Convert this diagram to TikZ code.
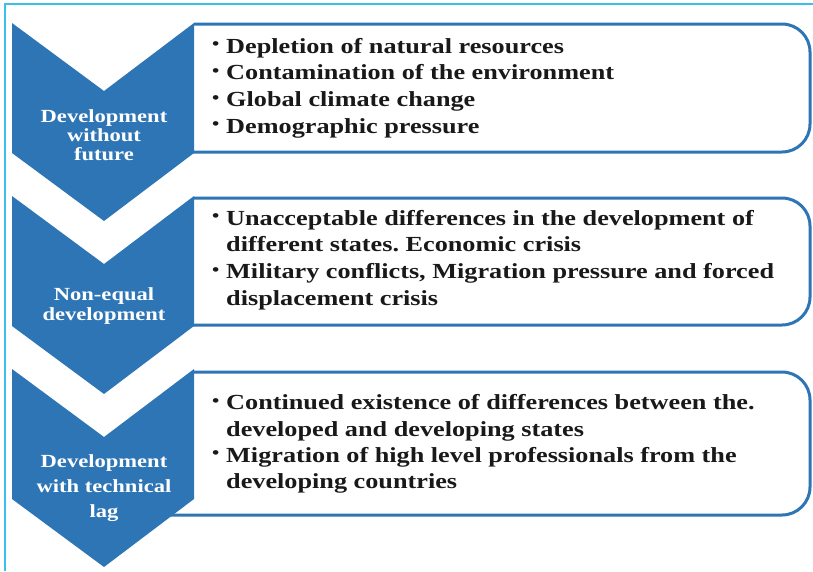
\documentclass[tikz,border=0pt]{standalone}
\usepackage{fontspec}
\setmainfont[FakeStretch=1.22]{Liberation Serif}
\frenchspacing
\definecolor{chevblue}{RGB}{46,117,182}
\definecolor{framecyan}{RGB}{60,190,235}
\newcommand{\bpt}{\makebox[14pt][l]{\raisebox{3.5pt}{\fontsize{17}{17}\selectfont\textbullet}}}
\newcommand{\bind}{\hspace*{14pt}}
\tikzset{
  chev/.style={fill=chevblue, draw=none},
  chevtext/.style={text=white, align=center, inner sep=0pt,
    font=\bfseries\fontsize{18.5}{19}\selectfont},
  boxline/.style={draw=chevblue, line width=3pt, rounded corners=28pt},
  boxtext/.style={anchor=west, align=left, inner sep=0pt, text=black!90,
    font=\bfseries\fontsize{21.5}{26.7}\selectfont}
}
\begin{document}
\begin{tikzpicture}[x=1pt, y=-1pt]
      \useasboundingbox (0,0) rectangle (813,571);
      % frame
      \draw[framecyan, line width=1.2pt] (813,4) -- (5,4) -- (5,571);
      % boxes
      \draw[boxline] (194,24) -- (810,24) -- (810,152) -- (150,152);
      \draw[boxline] (194,198) -- (810,198) -- (810,325) -- (150,325);
      \draw[boxline] (194,372) -- (810,372) -- (810,515) -- (150,515);
      % chevrons
      \foreach \dy in {0,173,346} {
        \fill[chev] (12,23+\dy) -- (104,91+\dy) -- (194,23+\dy) -- (194,153+\dy)
          -- (104,221+\dy) -- (12,153+\dy) -- cycle;
      }
      \node[chevtext] (c1) at (104,135) {Development\\without\\future};
      \node[chevtext, font=\bfseries\fontsize{18.5}{20}\selectfont] (c2) at (104,306)
        {Non-equal\\development};
      \node[chevtext, font=\bfseries\fontsize{18.5}{25}\selectfont] (c3) at (104,488)
        {Development\\with technical\\lag};
      \node[boxtext] (b1) at (212,88) {\bpt Depletion of natural resources\\
        \bpt Contamination of the environment\\
        \bpt Global climate change\\
        \bpt Demographic pressure};
      \node[boxtext] (b2) at (212,260) {\bpt Unacceptable differences in the development of\\
        \bind different states. Economic crisis\\
        \bpt Military conflicts, Migration pressure and forced\\
        \bind displacement crisis};
      \node[boxtext, font=\bfseries\fontsize{21.5}{26.3}\selectfont] (b3) at (212,444)
        {\bpt Continued existence of differences between the.\\
        \bind developed and developing states\\
        \bpt Migration of high level professionals from the\\
        \bind developing countries};
    \end{tikzpicture}
\end{document}
